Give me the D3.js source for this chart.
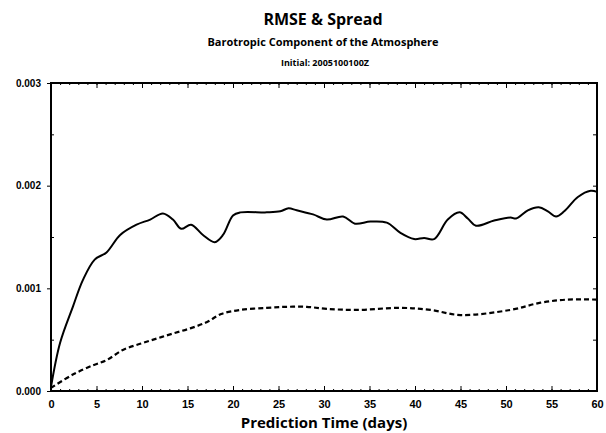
<!DOCTYPE html>
<html><head><meta charset="utf-8">
<script src="https://cdn.jsdelivr.net/npm/d3@7"></script>
<style>body{margin:0;background:#fff;} svg{display:block;font-family:"Open Sans",sans-serif;}</style>
</head><body>
<svg id="c" width="606" height="433"></svg>
<script>
const rmseDays = [0,1,2.4,3.5,4.8,6.1,7.6,9.4,10.9,12.3,13.4,14.3,15.4,16.7,18.0,18.9,20.0,20.8,23.7,25.2,26.1,27.0,28.8,30.3,32.1,33.4,35.1,36.9,38.4,39.9,41.0,42.1,43.6,44.9,45.8,46.7,48.7,50.5,51.1,52.4,53.6,54.6,55.5,56.4,57.9,59.3,60];
const rmseVals = [0.00004,0.00047,0.00082,0.00108,0.00128,0.00135,0.00152,0.00162,0.00167,0.00173,0.00167,0.00158,0.00162,0.00152,0.00145,0.00152,0.00171,0.00174,0.00174,0.00175,0.00178,0.00176,0.00172,0.00167,0.00170,0.00163,0.00165,0.00164,0.00154,0.00148,0.00149,0.00148,0.00167,0.00174,0.00168,0.00161,0.00166,0.00169,0.00168,0.00176,0.00179,0.00175,0.00170,0.00175,0.00189,0.00195,0.00194];
const spreadDays = [0,2.4,4.6,6.1,7.9,9.8,11.6,13.4,15.3,17.1,18.7,20.8,23.7,25.9,28.1,30.3,33.6,38.4,41.7,45.0,50.5,53.8,56.7,60];
const spreadVals = [0.00003,0.00016,0.00025,0.00030,0.00040,0.00046,0.00051,0.00056,0.00061,0.00067,0.00075,0.00079,0.00081,0.00082,0.00082,0.00080,0.00079,0.00081,0.00079,0.00074,0.00079,0.00086,0.00089,0.00089];
const xTicks = [0,5,10,15,20,25,30,35,40,45,50,55,60];
const yTicks = [0,0.001,0.002,0.003];
const yMinor = [0.0005,0.0015,0.0025];

const svg = d3.select("#c");
const L=51,R=597,T=83,B=391;
const x = d3.scaleLinear().domain([0,60]).range([L,R]);
const y = d3.scaleLinear().domain([0,0.003]).range([B,T]);

// frame
svg.append("rect").attr("x",L).attr("y",T).attr("width",R-L).attr("height",B-T)
  .attr("fill","none").attr("stroke","#000").attr("stroke-width",2);

// bottom axis
const bx = svg.append("g").attr("transform",`translate(0,${B})`)
  .call(d3.axisBottom(x).tickValues(xTicks).tickSize(-5).tickPadding(9).tickFormat(d3.format("d")));
bx.select(".domain").remove();
bx.selectAll("text").attr("font-size",11).attr("font-weight","bold").attr("fill","#000");
const bxm = svg.append("g").attr("transform",`translate(0,${B})`)
  .call(d3.axisBottom(x).tickValues(d3.range(0,61,1)).tickSize(-2).tickFormat(""));
bxm.select(".domain").remove();
// top axis
const tx = svg.append("g").attr("transform",`translate(0,${T})`)
  .call(d3.axisTop(x).tickValues(xTicks).tickSize(-5).tickFormat(""));
tx.select(".domain").remove();
const txm = svg.append("g").attr("transform",`translate(0,${T})`)
  .call(d3.axisTop(x).tickValues(d3.range(0,61,1)).tickSize(-2).tickFormat(""));
txm.select(".domain").remove();

// left axis
const ly = svg.append("g").attr("transform",`translate(${L},0)`)
  .call(d3.axisLeft(y).tickValues(yTicks).tickSize(4).tickPadding(6).tickFormat(d3.format(".3f")));
ly.select(".domain").remove();
ly.selectAll("text").attr("font-size",10).attr("font-weight","bold").attr("fill","#000");
const lym = svg.append("g").attr("transform",`translate(${L},0)`)
  .call(d3.axisRight(y).tickValues(yMinor).tickSize(3).tickFormat(""));
lym.select(".domain").remove();
// right axis
const ry = svg.append("g").attr("transform",`translate(${R},0)`)
  .call(d3.axisLeft(y).tickValues(yTicks.concat(yMinor)).tickSize(4).tickFormat(""));
ry.select(".domain").remove();

// lines
const line = d3.line().curve(d3.curveCatmullRom.alpha(0.5)).x(d=>x(d[0])).y(d=>y(d[1]));
svg.append("path").datum(rmseDays.map((d,i)=>[d,rmseVals[i]]))
  .attr("d",line).attr("fill","none").attr("stroke","#000").attr("stroke-width",2);
svg.append("path").datum(spreadDays.map((d,i)=>[d,spreadVals[i]]))
  .attr("d",line).attr("fill","none").attr("stroke","#000").attr("stroke-width",2.2)
  .attr("stroke-dasharray","5,3");

// titles
svg.append("text").attr("x",323).attr("y",25).attr("text-anchor","middle")
  .attr("font-size",16).attr("font-weight","bold").text("RMSE & Spread");
svg.append("text").attr("x",323).attr("y",46).attr("text-anchor","middle")
  .attr("font-size",11).attr("font-weight","bold").text("Barotropic Component of the Atmosphere");
svg.append("text").attr("x",325).attr("y",66).attr("text-anchor","middle")
  .attr("font-size",9).attr("font-weight","bold").text("Initial: 2005100100Z");
svg.append("text").attr("x",324).attr("y",428).attr("text-anchor","middle")
  .attr("font-size",15).attr("font-weight","bold").text("Prediction Time (days)");
</script>
</body></html>
